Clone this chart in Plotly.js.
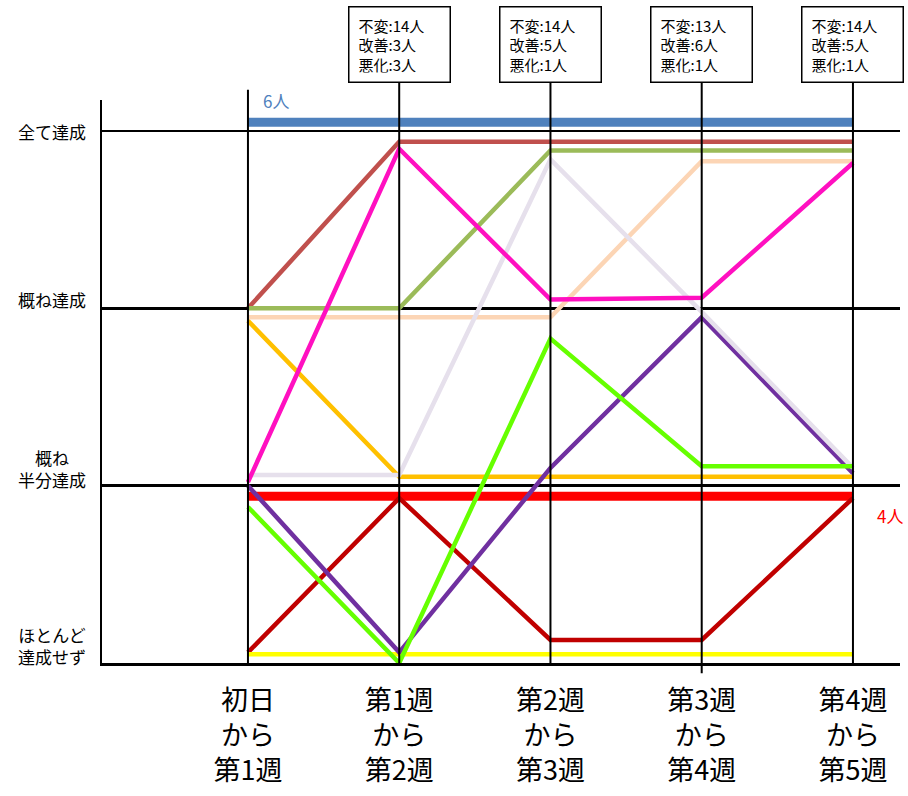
<!DOCTYPE html>
<html>
<head>
<meta charset="utf-8">
<script src="https://cdn.plot.ly/plotly-3.0.1.min.js"></script>
<style>
  body { margin: 0; background: #fff; }
  #chart { width: 908px; height: 796px; }
</style>
</head>
<body>
<div id="chart"></div>
<script>
// periods on the x axis
const periods = ["初日<br>から<br>第1週", "第1週<br>から<br>第2週", "第2週<br>から<br>第3週",
  "第3週<br>から<br>第4週", "第4週<br>から<br>第5週"];
const periodIdx = [0, 1, 2, 3, 4];

// levels on the y axis (0 = lowest)
const levelNames = ["ほとんど<br>達成せず", "概ね<br>半分達成", "概ね達成", "全て達成"];
const levelIdx = [0, 1, 2, 3];

// each student's path (small offsets keep overlapping lines apart)
const blueLine = [3.05, 3.05, 3.05, 3.05, 3.05];
const brownLine = [2.0, 2.94, 2.94, 2.94, 2.94];
const oliveLine = [2.0, 2.0, 2.89, 2.89, 2.89];
const peachLine = [1.95, 1.95, 1.95, 2.83, 2.83];
const orangeLine = [1.93, 1.05, 1.05, 1.05, 1.05];
const redLine = [0.94, 0.94, 0.94, 0.94, 0.94];
const darkRedLine = [0.06, 0.93, 0.13, 0.13, 0.93];
const yellowLine = [0.05, 0.05, 0.05, 0.05, 0.05];
const purpleLine = [1.0, 0.06, 1.10, 1.95, 1.07];
const lavenderLine = [1.06, 1.06, 2.84, 1.98, 1.10];
const magentaLine = [1.02, 2.90, 2.05, 2.06, 2.82];
const greenLine = [0.88, 0.0, 1.83, 1.11, 1.11];

// counts shown in the boxes for periods 2..5
const unchanged = [14, 14, 13, 14];
const improved = [3, 5, 6, 5];
const worsened = [3, 1, 1, 1];

const blueCount = "6人";
const redCount = "4人";

const jp = "Noto Sans CJK JP, Noto Sans, sans-serif";

function line(y, color, width) {
  return {
    x: periodIdx,
    y: y,
    mode: "lines",
    type: "scatter",
    line: {color: color, width: width},
    hoverinfo: "skip"
  };
}

const traces = [
  line(blueLine, "#4F81BD", 9),
  line(brownLine, "#C0504D", 4.5),
  line(oliveLine, "#9BBB59", 4.5),
  line(peachLine, "#FCD5B5", 4.5),
  line(orangeLine, "#FFC000", 4.5),
  line(redLine, "#FF0000", 9),
  line(darkRedLine, "#C00000", 4.5),
  line(yellowLine, "#FFFF00", 4.5),
  line(purpleLine, "#7030A0", 4.5),
  line(lavenderLine, "#E6E0EC", 4.5),
  line(magentaLine, "#FF10C0", 4.5),
  line(greenLine, "#66FF00", 4.5)
];

// vertical lines at each period, running up to the boxes
const shapes = periodIdx.map(function (i) {
  return {
    type: "line", xref: "x", yref: "paper",
    x0: i, x1: i,
    y0: i === 3 ? -0.018 : 0,
    y1: i === 0 ? 1.018 : 1.034,
    line: {color: "black", width: 2}
  };
});

const annotations = [];

// level names on the left
const levelShift = [18, 17, 9, 0];
levelIdx.forEach(function (lv) {
  annotations.push({
    xref: "paper", yref: "y", x: -0.063, y: lv,
    xanchor: "center", yanchor: "middle", yshift: levelShift[lv],
    text: levelNames[lv], showarrow: false,
    font: {family: jp, size: 17, color: "black"}
  });
});

// count boxes above periods 2..5
for (let k = 0; k < unchanged.length; k++) {
  annotations.push({
    xref: "x", yref: "paper", x: k + 1, y: 1.099,
    xanchor: "center", yanchor: "middle",
    text: "不変:" + unchanged[k] + "人<br>改善:" + improved[k] + "人<br>悪化:" + worsened[k] + "人",
    align: "left", showarrow: false,
    bgcolor: "white", bordercolor: "black", borderwidth: 1.5, borderpad: 9,
    width: 82, height: 56,
    font: {family: jp, size: 15, color: "black"}
  });
}

annotations.push({
  xref: "x", yref: "y", x: 0, y: blueLine[0],
  xanchor: "left", yanchor: "middle", xshift: 13, yshift: 22,
  text: blueCount, showarrow: false,
  font: {family: jp, size: 17, color: "#4F81BD"}
});
annotations.push({
  xref: "x", yref: "y", x: 4, y: redLine[4],
  xanchor: "left", yanchor: "middle", xshift: 22, yshift: -19,
  text: redCount, showarrow: false,
  font: {family: jp, size: 17, color: "#FF0000"}
});

const layout = {
  width: 908,
  height: 796,
  margin: {l: 102, r: 8, t: 100, b: 133},
  paper_bgcolor: "white",
  plot_bgcolor: "white",
  showlegend: false,
  xaxis: {
    range: [-0.965, 4.311],
    tickvals: periodIdx,
    ticktext: periods,
    ticks: "",
    ticklabelstandoff: 12,
    showgrid: false,
    zeroline: false,
    showline: true,
    linecolor: "black",
    linewidth: 2.5,
    tickfont: {family: jp, size: 27, color: "black"}
  },
  yaxis: {
    range: [0, 3.175],
    tickvals: levelIdx,
    showticklabels: false,
    ticks: "",
    showgrid: true,
    gridcolor: "black",
    gridwidth: 2.5,
    zeroline: false,
    showline: true,
    linecolor: "black",
    linewidth: 2.5
  },
  shapes: shapes,
  annotations: annotations
};

Plotly.newPlot("chart", traces, layout, {displayModeBar: false, staticPlot: true});
</script>
</body>
</html>
